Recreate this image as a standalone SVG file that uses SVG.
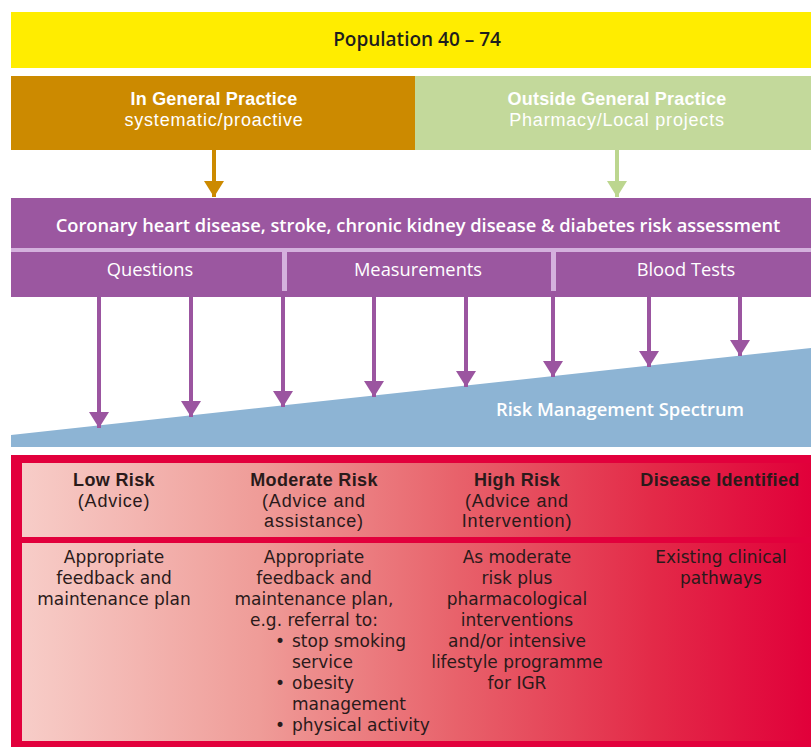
<svg xmlns="http://www.w3.org/2000/svg" width="811" height="747" viewBox="0 0 811 747">
<defs>
<linearGradient id="rg" x1="0" y1="0" x2="1" y2="0">
<stop offset="0" stop-color="#f7cdc8"/>
<stop offset="0.3" stop-color="#ef9c98"/>
<stop offset="0.55" stop-color="#e8626b"/>
<stop offset="0.8" stop-color="#e32a48"/>
<stop offset="1" stop-color="#e1003a"/>
</linearGradient>
<marker id="ap" markerWidth="5" markerHeight="4" refX="2.5" refY="4" markerUnits="strokeWidth" viewBox="0 0 5 4">
<path d="M0,0 L5,0 L2.5,4 Z" fill="#9b55a0"/>
</marker>
<marker id="ab" markerWidth="5" markerHeight="4" refX="2.5" refY="4" markerUnits="strokeWidth" viewBox="0 0 5 4">
<path d="M0,0 L5,0 L2.5,4 Z" fill="#cc8a00"/>
</marker>
<marker id="ag" markerWidth="5" markerHeight="4" refX="2.5" refY="4" markerUnits="strokeWidth" viewBox="0 0 5 4">
<path d="M0,0 L5,0 L2.5,4 Z" fill="#bcd68f"/>
</marker>
</defs>
<style>
text{font-family:"Open Sans","Noto Sans","Liberation Sans",sans-serif;text-anchor:middle}
.h{font-weight:600;font-size:19px;fill:#1e1e1e}
.w{font-family:"Liberation Sans",Arial,sans-serif;fill:#ffffff;font-size:18px;letter-spacing:0.8px}
.wb{font-weight:bold;letter-spacing:0.2px}
.sub{fill:#ffffff;font-size:18.3px}
.hd{font-family:"Liberation Sans",Arial,sans-serif;font-size:18px;fill:#2a1a1a;letter-spacing:0.8px}
.hb{font-weight:bold;letter-spacing:0.35px}
.b{font-family:"DejaVu Sans","Open Sans",sans-serif;font-size:17px;fill:#2a1a1a}
.pa{stroke:#9b55a0;stroke-width:4;fill:none;marker-end:url(#ap)}
</style>
<rect width="811" height="747" fill="#ffffff"/>

<g id="population">
<rect x="11" y="12" width="800" height="56" fill="#ffed00"/>
<text class="h" x="417" y="46">Population 40 – 74</text>
</g>

<g id="in-gp">
<rect x="11" y="76" width="404" height="74" fill="#cc8a00"/>
<text class="w wb" x="214" y="105">In General Practice</text>
<text class="w" x="214" y="126">systematic/proactive</text>
</g>

<g id="outside-gp">
<rect x="415" y="76" width="396" height="74" fill="#c3d99b"/>
<text class="w wb" x="617" y="105" fill="#f4f8ea">Outside General Practice</text>
<text class="w" x="617" y="126" fill="#f4f8ea">Pharmacy/Local projects</text>
</g>

<g id="assessment">
<rect x="11" y="198" width="800" height="99" fill="#9b57a0"/>
<rect x="11" y="248" width="800" height="4" fill="#d4b1dd"/>
<rect x="282" y="250" width="5" height="41" fill="#d4b1dd"/>
<rect x="551" y="250" width="5" height="41" fill="#d4b1dd"/>
<text class="sub" x="418" y="232" font-weight="600">Coronary heart disease, stroke, chronic kidney disease &amp; diabetes risk assessment</text>
</g>
<g id="questions"><text class="sub" x="150" y="276">Questions</text></g>
<g id="measurements"><text class="sub" x="418" y="276">Measurements</text></g>
<g id="blood-tests"><text class="sub" x="686" y="276">Blood Tests</text></g>

<g id="spectrum">
<polygon points="11,435 811,348 811,447 11,447" fill="#8db4d4"/>
<text x="620" y="416" fill="#ffffff" font-weight="600" font-size="18.3px">Risk Management Spectrum</text>
</g>

<g id="connectors">
<line x1="214" y1="150" x2="214" y2="197" stroke="#cc8a00" stroke-width="4" marker-end="url(#ab)"/>
<line x1="617" y1="150" x2="617" y2="197" stroke="#bcd68f" stroke-width="4" marker-end="url(#ag)"/>
<line class="pa" x1="99" y1="297" x2="99" y2="428"/>
<line class="pa" x1="191" y1="297" x2="191" y2="417"/>
<line class="pa" x1="283" y1="291" x2="283" y2="407"/>
<line class="pa" x1="374" y1="297" x2="374" y2="397"/>
<line class="pa" x1="466" y1="297" x2="466" y2="387"/>
<line class="pa" x1="553" y1="291" x2="553" y2="377"/>
<line class="pa" x1="649" y1="297" x2="649" y2="367"/>
<line class="pa" x1="740" y1="297" x2="740" y2="356"/>
</g>

<g id="risk-table">
<rect x="11" y="455" width="800" height="292" fill="#e2003c"/>
<rect x="22" y="463" width="789" height="74" fill="url(#rg)"/>
<rect x="22" y="543" width="789" height="198" fill="url(#rg)"/>
</g>

<g id="low-risk">
<text class="hd" x="114" y="486"><tspan class="hb">Low Risk</tspan><tspan x="114" dy="20.5">(Advice)</tspan></text>
<text class="b" x="114" y="563">Appropriate<tspan x="114" dy="21">feedback and</tspan><tspan x="114" dy="21">maintenance plan</tspan></text>
</g>

<g id="moderate-risk">
<text class="hd" x="314" y="486"><tspan class="hb">Moderate  Risk</tspan><tspan x="314" dy="20.5">(Advice and</tspan><tspan x="314" dy="20.5">assistance)</tspan></text>
<text class="b" x="314" y="563">Appropriate<tspan x="314" dy="21">feedback and</tspan><tspan x="314" dy="21">maintenance plan,</tspan><tspan x="314" dy="21">e.g. referral to:</tspan></text>
<text class="b" x="275" y="647" style="text-anchor:start">•</text>
<text class="b" x="292" y="647" style="text-anchor:start">stop smoking<tspan x="292" dy="21">service</tspan></text>
<text class="b" x="275" y="689" style="text-anchor:start">•</text>
<text class="b" x="292" y="689" style="text-anchor:start">obesity<tspan x="292" dy="21">management</tspan></text>
<text class="b" x="275" y="731" style="text-anchor:start">•</text>
<text class="b" x="292" y="731" style="text-anchor:start">physical activity</text>
</g>

<g id="high-risk">
<text class="hd" x="517" y="486"><tspan class="hb">High Risk</tspan><tspan x="517" dy="20.5">(Advice and</tspan><tspan x="517" dy="20.5">Intervention)</tspan></text>
<text class="b" x="517" y="563">As moderate<tspan x="517" dy="21">risk plus</tspan><tspan x="517" dy="21">pharmacological</tspan><tspan x="517" dy="21">interventions</tspan><tspan x="517" dy="21">and/or intensive</tspan><tspan x="517" dy="21">lifestyle programme</tspan><tspan x="517" dy="21">for IGR</tspan></text>
</g>

<g id="disease-identified">
<text class="hd hb" x="720" y="486">Disease Identified</text>
<text class="b" x="721" y="563">Existing clinical<tspan x="721" dy="21">pathways</tspan></text>
</g>
</svg>
